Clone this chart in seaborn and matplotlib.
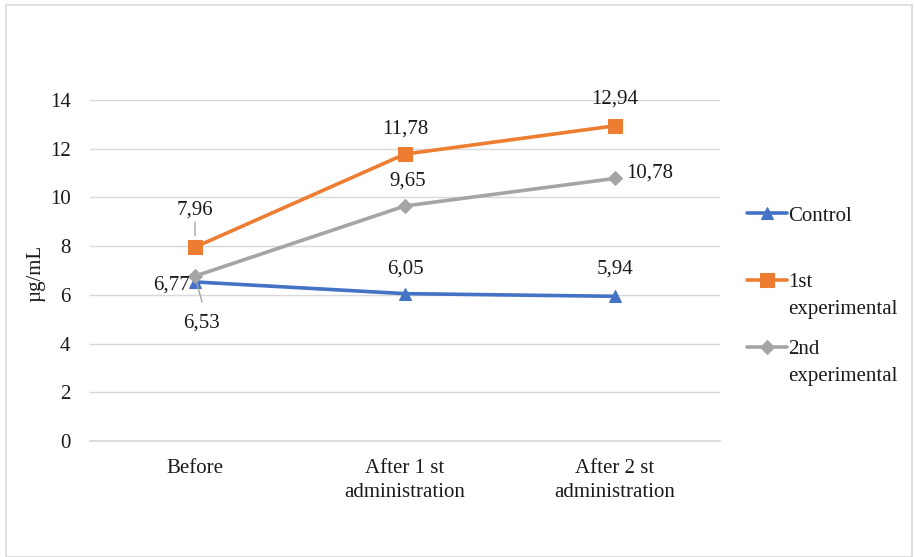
import matplotlib
matplotlib.use("Agg")
import matplotlib.pyplot as plt
import seaborn as sns
import pandas as pd
from matplotlib.patches import Rectangle

categories = ["Before", "After 1 st\nadministration", "After 2 st\nadministration"]
series_names = ["Control", "1st experimental", "2nd experimental"]
control = [6.53, 6.05, 5.94]
exp1 = [7.96, 11.78, 12.94]
exp2 = [6.77, 9.65, 10.78]
yticks = [0, 2, 4, 6, 8, 10, 12, 14]

sns.set_theme(style="white")
plt.rcParams["font.family"] = ["Liberation Serif", "DejaVu Serif"]

FS = 15
TXT = "#1a1a1a"
colors = ["#4472C4", "#ED7D31", "#A5A5A5"]
markers = ["^", "s", "D"]
msizes = [9, 10, 7]

rows = []
for name, vals in zip(series_names, [control, exp1, exp2]):
    for i, v in enumerate(vals):
        rows.append({"x": i, "value": v, "series": name})
df = pd.DataFrame(rows)

fig = plt.figure(figsize=(9.14, 5.57), dpi=100)
ax = fig.add_axes([90/914, 1-441/557, 630/914, 341/557])

for name, c, m, ms in zip(series_names, colors, markers, msizes):
    sub = df[df["series"] == name]
    sns.lineplot(data=sub, x="x", y="value", ax=ax, color=c, marker=m,
                 markersize=ms, markeredgecolor=c, linewidth=2.6, label=name,
                 legend=False)

ax.set_xlim(-0.5, 2.5)
ax.set_ylim(0, 14)
ax.set_yticks(yticks)
ax.set_yticklabels([str(t) for t in yticks], fontsize=FS, color=TXT)
ax.set_xticks(range(len(categories)))
ax.set_xticklabels(categories, fontsize=FS, color=TXT, linespacing=1.35)
ax.tick_params(axis="y", length=0, pad=14)
ax.tick_params(axis="x", length=0, pad=13)
ax.grid(axis="y", color="#D9D9D9", linewidth=1)
ax.set_axisbelow(True)
for s in ["top", "right", "left"]:
    ax.spines[s].set_visible(False)
ax.spines["bottom"].set_color("#D9D9D9")
ax.set_xlabel("")
ax.set_ylabel("µg/mL", fontsize=FS, color=TXT)
ax.yaxis.set_label_coords(-45/630, (441-273)/341)

def fmt(v):
    return f"{v:.2f}".replace(".", ",")

# offsets in pixels (dx, dy) of label center from point
offsets = {
    ("Control", 0): (7, -41), ("Control", 1): (0, 25), ("Control", 2): (0, 27),
    ("1st experimental", 0): (0, 37), ("1st experimental", 1): (0, 25), ("1st experimental", 2): (0, 27),
    ("2nd experimental", 0): (-23, -9), ("2nd experimental", 1): (3, 25), ("2nd experimental", 2): (35, 5),
}
for name, vals in zip(series_names, [control, exp1, exp2]):
    for i, v in enumerate(vals):
        dx, dy = offsets[(name, i)]
        ax.annotate(fmt(v), xy=(i, v), xytext=(dx, dy), textcoords="offset pixels",
                    ha="center", va="center", fontsize=FS, color=TXT)

# leader lines
ax.annotate("", xy=(0, exp1[0]), xytext=(0, 25), textcoords="offset pixels",
            xycoords="data", arrowprops=dict(arrowstyle="-", color="#A5A5A5", lw=1,
                                              shrinkA=0, shrinkB=8))
ax.annotate("", xy=(0, exp2[0]), xytext=(7, -26), textcoords="offset pixels",
            xycoords="data", arrowprops=dict(arrowstyle="-", color="#A5A5A5", lw=1,
                                              shrinkA=0, shrinkB=5))

# legend: first word on the legend line, second word wrapped below
handles, labels = ax.get_legend_handles_labels()
first_words = [l.split(" ")[0] for l in labels]
leg = fig.legend(handles, first_words, loc="upper left", bbox_to_anchor=(747/914, 1-206/557),
                 frameon=False, fontsize=FS, handlelength=1.9, handletextpad=0.08,
                 labelspacing=2.27, borderaxespad=0, borderpad=0)
for t in leg.get_texts():
    t.set_color(TXT)

fig.canvas.draw()
inv = fig.transFigure.inverted()
for t, full in zip(leg.get_texts(), labels):
    parts = full.split(" ")
    if len(parts) > 1:
        bb = t.get_window_extent()
        x0, y0 = inv.transform((bb.x0, bb.y0))
        fig.text(x0, y0 - 22/557, " ".join(parts[1:]), fontsize=FS, color=TXT,
                 ha="left", va="baseline")

fig.patches.append(Rectangle((6/914, 0), 906/914, 1-5/557, transform=fig.transFigure,
                             fill=False, edgecolor="#D9D9D9", linewidth=1.2))

fig.savefig("out.png", dpi=100)
